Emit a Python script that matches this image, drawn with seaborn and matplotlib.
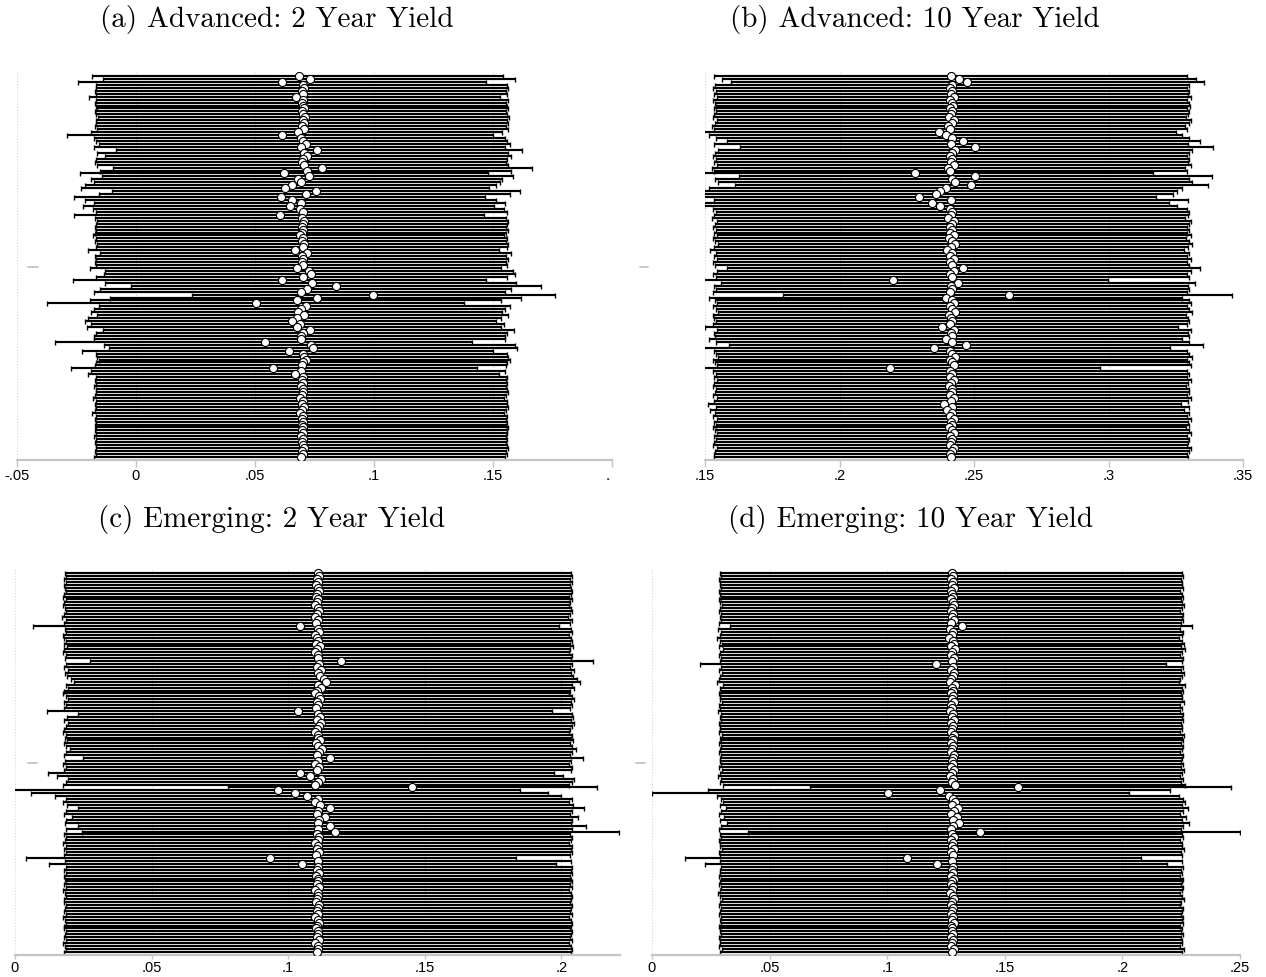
import numpy as np
import pandas as pd
import matplotlib
matplotlib.use("Agg")
import matplotlib.pyplot as plt
import seaborn as sns
from matplotlib.transforms import Bbox, TransformedBbox, blended_transform_factory

# ---------------------------------------------------------------------------
# Leave-one-out estimates: point estimate and 95% interval for every sample row
# ---------------------------------------------------------------------------

# (a) Advanced economies, 2 year yield
EST_A = [0.0685, 0.0733, 0.0613, 0.0700, 0.0704, 0.0697, 0.0702, 0.0672, 0.0703, 0.0697,
         0.0700, 0.0706, 0.0698, 0.0702, 0.0709, 0.0700, 0.0704, 0.0697, 0.0705, 0.0680,
         0.0613, 0.0693, 0.0700, 0.0713, 0.0693, 0.0760, 0.0705, 0.0718, 0.0702, 0.0698,
         0.0705, 0.0780, 0.0718, 0.0620, 0.0728, 0.0680, 0.0693, 0.0655, 0.0626, 0.0756,
         0.0714, 0.0609, 0.0655, 0.0693, 0.0647, 0.0690, 0.0700, 0.0605, 0.0698, 0.0705,
         0.0700, 0.0696, 0.0703, 0.0698, 0.0690, 0.0702, 0.0697, 0.0705, 0.0700, 0.0668,
         0.0718, 0.0698, 0.0703, 0.0696, 0.0700, 0.0676, 0.0725, 0.0735, 0.0700, 0.0613,
         0.0740, 0.0840, 0.0718, 0.0693, 0.0996, 0.0760, 0.0676, 0.0504, 0.0714, 0.0693,
         0.0680, 0.0706, 0.0676, 0.0655, 0.0690, 0.0676, 0.0730, 0.0700, 0.0693, 0.0693,
         0.0540, 0.0735, 0.0743, 0.0643, 0.0700, 0.0705, 0.0714, 0.0700, 0.0698, 0.0575,
         0.0693, 0.0668, 0.0700, 0.0697, 0.0702, 0.0695, 0.0700, 0.0703, 0.0697, 0.0688,
         0.0701, 0.0699, 0.0704, 0.0696, 0.0690, 0.0702, 0.0698, 0.0701, 0.0697, 0.0703,
         0.0699, 0.0700, 0.0695, 0.0702, 0.0698, 0.0700, 0.0704, 0.0696, 0.0701, 0.0692]
LO_A = [-0.0185, -0.0140, -0.0245, -0.0170, -0.0166, -0.0173, -0.0168, -0.0198, -0.0167, -0.0173,
        -0.0170, -0.0164, -0.0172, -0.0168, -0.0161, -0.0170, -0.0166, -0.0173, -0.0165, -0.0190,
        -0.0290, -0.0177, -0.0170, -0.0157, -0.0177, -0.0085, -0.0165, -0.0130, -0.0168, -0.0172,
        -0.0165, -0.0095, -0.0152, -0.0235, -0.0142, -0.0190, -0.0177, -0.0215, -0.0230, -0.0100,
        -0.0156, -0.0261, -0.0215, -0.0177, -0.0223, -0.0180, -0.0170, -0.0260, -0.0172, -0.0165,
        -0.0170, -0.0174, -0.0167, -0.0172, -0.0180, -0.0168, -0.0173, -0.0165, -0.0170, -0.0202,
        -0.0152, -0.0172, -0.0167, -0.0174, -0.0170, -0.0194, -0.0130, -0.0135, -0.0170, -0.0265,
        -0.0130, -0.0020, -0.0152, -0.0177, 0.0235, -0.0110, -0.0194, -0.0374, -0.0156, -0.0177,
        -0.0190, -0.0164, -0.0200, -0.0215, -0.0190, -0.0205, -0.0140, -0.0170, -0.0177, -0.0177,
        -0.0340, -0.0135, -0.0112, -0.0225, -0.0170, -0.0165, -0.0156, -0.0170, -0.0172, -0.0275,
        -0.0190, -0.0202, -0.0170, -0.0173, -0.0168, -0.0175, -0.0170, -0.0167, -0.0173, -0.0182,
        -0.0169, -0.0171, -0.0166, -0.0174, -0.0185, -0.0168, -0.0172, -0.0169, -0.0173, -0.0167,
        -0.0171, -0.0170, -0.0175, -0.0168, -0.0172, -0.0170, -0.0166, -0.0174, -0.0169, -0.0178]
HI_A = [0.1543, 0.1591, 0.1471, 0.1558, 0.1562, 0.1555, 0.1560, 0.1530, 0.1561, 0.1555,
        0.1558, 0.1564, 0.1556, 0.1560, 0.1567, 0.1558, 0.1562, 0.1555, 0.1563, 0.1538,
        0.1500, 0.1551, 0.1558, 0.1571, 0.1551, 0.1620, 0.1563, 0.1576, 0.1560, 0.1556,
        0.1563, 0.1665, 0.1576, 0.1478, 0.1586, 0.1538, 0.1530, 0.1513, 0.1484, 0.1614,
        0.1572, 0.1467, 0.1513, 0.1551, 0.1505, 0.1548, 0.1558, 0.1463, 0.1556, 0.1563,
        0.1558, 0.1554, 0.1561, 0.1556, 0.1548, 0.1560, 0.1555, 0.1563, 0.1558, 0.1526,
        0.1576, 0.1556, 0.1561, 0.1554, 0.1558, 0.1534, 0.1583, 0.1593, 0.1558, 0.1471,
        0.1598, 0.1700, 0.1576, 0.1551, 0.1760, 0.1618, 0.1534, 0.1380, 0.1572, 0.1551,
        0.1538, 0.1564, 0.1534, 0.1513, 0.1548, 0.1534, 0.1588, 0.1558, 0.1551, 0.1551,
        0.1410, 0.1593, 0.1601, 0.1501, 0.1558, 0.1563, 0.1572, 0.1558, 0.1556, 0.1433,
        0.1551, 0.1526, 0.1558, 0.1555, 0.1560, 0.1553, 0.1558, 0.1561, 0.1555, 0.1546,
        0.1559, 0.1557, 0.1562, 0.1554, 0.1548, 0.1560, 0.1556, 0.1559, 0.1555, 0.1561,
        0.1557, 0.1558, 0.1553, 0.1560, 0.1556, 0.1558, 0.1562, 0.1554, 0.1559, 0.1550]

# (b) Advanced economies, 10 year yield
EST_B = [0.2413, 0.2445, 0.2475, 0.2418, 0.2410, 0.2420, 0.2415, 0.2425, 0.2410, 0.2418,
         0.2422, 0.2412, 0.2420, 0.2415, 0.2408, 0.2425, 0.2418, 0.2405, 0.2412, 0.2370,
         0.2395, 0.2420, 0.2460, 0.2415, 0.2502, 0.2430, 0.2418, 0.2410, 0.2420, 0.2415,
         0.2425, 0.2405, 0.2412, 0.2280, 0.2505, 0.2418, 0.2430, 0.2490, 0.2395, 0.2375,
         0.2360, 0.2295, 0.2415, 0.2345, 0.2375, 0.2410, 0.2420, 0.2415, 0.2405, 0.2425,
         0.2418, 0.2410, 0.2420, 0.2412, 0.2425, 0.2408, 0.2418, 0.2430, 0.2415, 0.2400,
         0.2420, 0.2412, 0.2425, 0.2410, 0.2418, 0.2460, 0.2425, 0.2410, 0.2420, 0.2200,
         0.2440, 0.2415, 0.2420, 0.2410, 0.2630, 0.2395, 0.2418, 0.2425, 0.2410, 0.2420,
         0.2430, 0.2408, 0.2415, 0.2420, 0.2410, 0.2380, 0.2425, 0.2415, 0.2418, 0.2395,
         0.2420, 0.2470, 0.2350, 0.2412, 0.2420, 0.2430, 0.2410, 0.2418, 0.2425, 0.2187,
         0.2410, 0.2420, 0.2412, 0.2425, 0.2415, 0.2408, 0.2420, 0.2418, 0.2410, 0.2425,
         0.2415, 0.2390, 0.2420, 0.2400, 0.2418, 0.2410, 0.2425, 0.2415, 0.2420, 0.2408,
         0.2418, 0.2425, 0.2412, 0.2420, 0.2415, 0.2410, 0.2425, 0.2418, 0.2412, 0.2415]
LO_B = [0.1533, 0.1565, 0.1595, 0.1538, 0.1530, 0.1540, 0.1535, 0.1545, 0.1530, 0.1538,
        0.1542, 0.1532, 0.1540, 0.1535, 0.1528, 0.1545, 0.1538, 0.1525, 0.1532, 0.1420,
        0.1515, 0.1540, 0.1580, 0.1535, 0.1630, 0.1550, 0.1538, 0.1530, 0.1540, 0.1535,
        0.1545, 0.1525, 0.1532, 0.1400, 0.1625, 0.1538, 0.1550, 0.1610, 0.1515, 0.1495,
        0.1480, 0.1418, 0.1535, 0.1465, 0.1495, 0.1530, 0.1540, 0.1535, 0.1525, 0.1545,
        0.1538, 0.1530, 0.1540, 0.1532, 0.1545, 0.1528, 0.1538, 0.1550, 0.1535, 0.1520,
        0.1540, 0.1532, 0.1545, 0.1530, 0.1538, 0.1580, 0.1545, 0.1530, 0.1540, 0.1318,
        0.1560, 0.1535, 0.1540, 0.1530, 0.1790, 0.1515, 0.1538, 0.1545, 0.1530, 0.1540,
        0.1550, 0.1528, 0.1535, 0.1540, 0.1530, 0.1500, 0.1545, 0.1535, 0.1538, 0.1515,
        0.1540, 0.1590, 0.1470, 0.1532, 0.1540, 0.1550, 0.1530, 0.1538, 0.1545, 0.1370,
        0.1530, 0.1540, 0.1532, 0.1545, 0.1535, 0.1528, 0.1540, 0.1538, 0.1530, 0.1545,
        0.1535, 0.1510, 0.1540, 0.1520, 0.1538, 0.1530, 0.1545, 0.1535, 0.1540, 0.1528,
        0.1538, 0.1545, 0.1532, 0.1540, 0.1535, 0.1530, 0.1545, 0.1538, 0.1532, 0.1535]
HI_B = [0.3293, 0.3325, 0.3355, 0.3298, 0.3290, 0.3300, 0.3295, 0.3305, 0.3290, 0.3298,
        0.3302, 0.3292, 0.3300, 0.3295, 0.3288, 0.3305, 0.3298, 0.3285, 0.3292, 0.3250,
        0.3275, 0.3300, 0.3340, 0.3295, 0.3390, 0.3310, 0.3298, 0.3290, 0.3300, 0.3295,
        0.3305, 0.3285, 0.3292, 0.3165, 0.3385, 0.3298, 0.3310, 0.3370, 0.3275, 0.3255,
        0.3240, 0.3175, 0.3295, 0.3225, 0.3255, 0.3290, 0.3300, 0.3295, 0.3285, 0.3305,
        0.3298, 0.3290, 0.3300, 0.3292, 0.3305, 0.3288, 0.3298, 0.3310, 0.3295, 0.3280,
        0.3300, 0.3292, 0.3305, 0.3290, 0.3298, 0.3340, 0.3305, 0.3290, 0.3300, 0.2998,
        0.3320, 0.3295, 0.3300, 0.3290, 0.3460, 0.3275, 0.3298, 0.3305, 0.3290, 0.3300,
        0.3310, 0.3288, 0.3295, 0.3300, 0.3290, 0.3260, 0.3305, 0.3295, 0.3298, 0.3275,
        0.3300, 0.3350, 0.3230, 0.3292, 0.3300, 0.3310, 0.3290, 0.3298, 0.3305, 0.2968,
        0.3290, 0.3300, 0.3292, 0.3305, 0.3295, 0.3288, 0.3300, 0.3298, 0.3290, 0.3305,
        0.3295, 0.3270, 0.3300, 0.3280, 0.3298, 0.3290, 0.3305, 0.3295, 0.3300, 0.3288,
        0.3298, 0.3305, 0.3292, 0.3300, 0.3295, 0.3290, 0.3305, 0.3298, 0.3292, 0.3295]

# (c) Emerging economies, 2 year yield
EST_C = [0.1108, 0.1112, 0.1105, 0.1110, 0.1103, 0.1108, 0.1112, 0.1106, 0.1102, 0.1110,
         0.1105, 0.1100, 0.1108, 0.1112, 0.1104, 0.1098, 0.1110, 0.1103, 0.1044, 0.1108,
         0.1112, 0.1100, 0.1106, 0.1110, 0.1103, 0.1115, 0.1105, 0.1100, 0.1110, 0.1108,
         0.1194, 0.1112, 0.1105, 0.1120, 0.1108, 0.1115, 0.1130, 0.1140, 0.1110, 0.1120,
         0.1105, 0.1100, 0.1112, 0.1118, 0.1106, 0.1110, 0.1103, 0.1037, 0.1110, 0.1115,
         0.1106, 0.1120, 0.1112, 0.1105, 0.1100, 0.1110, 0.1108, 0.1115, 0.1103, 0.1110,
         0.1125, 0.1112, 0.1105, 0.1154, 0.1108, 0.1100, 0.1112, 0.1106, 0.1044, 0.1080,
         0.1120, 0.1110, 0.1100, 0.1454, 0.0963, 0.1026, 0.1070, 0.1110, 0.1100, 0.1115,
         0.1154, 0.1110, 0.1105, 0.1135, 0.1112, 0.1108, 0.1154, 0.1110, 0.1172, 0.1105,
         0.1112, 0.1108, 0.1100, 0.1110, 0.1106, 0.1112, 0.1103, 0.0934, 0.1108, 0.1051,
         0.1110, 0.1106, 0.1112, 0.1103, 0.1108, 0.1110, 0.1105, 0.1112, 0.1100, 0.1108,
         0.1110, 0.1106, 0.1103, 0.1112, 0.1108, 0.1105, 0.1110, 0.1100, 0.1108, 0.1112,
         0.1106, 0.1103, 0.1110, 0.1108, 0.1105, 0.1112, 0.1100, 0.1108, 0.1110, 0.1106]
LO_C = [0.0183, 0.0187, 0.0180, 0.0185, 0.0178, 0.0183, 0.0187, 0.0181, 0.0177, 0.0185,
        0.0180, 0.0175, 0.0183, 0.0187, 0.0179, 0.0173, 0.0185, 0.0178, 0.0066, 0.0183,
        0.0187, 0.0175, 0.0181, 0.0185, 0.0178, 0.0190, 0.0180, 0.0175, 0.0185, 0.0183,
        0.0275, 0.0187, 0.0180, 0.0195, 0.0183, 0.0190, 0.0205, 0.0215, 0.0185, 0.0195,
        0.0180, 0.0175, 0.0187, 0.0193, 0.0181, 0.0185, 0.0178, 0.0117, 0.0230, 0.0190,
        0.0181, 0.0195, 0.0187, 0.0180, 0.0175, 0.0185, 0.0183, 0.0190, 0.0178, 0.0185,
        0.0200, 0.0187, 0.0180, 0.0250, 0.0183, 0.0175, 0.0187, 0.0181, 0.0119, 0.0155,
        0.0195, 0.0185, 0.0175, 0.0780, -0.0037, 0.0060, 0.0145, 0.0185, 0.0175, 0.0190,
        0.0229, 0.0185, 0.0180, 0.0210, 0.0187, 0.0183, 0.0229, 0.0185, 0.0247, 0.0180,
        0.0187, 0.0183, 0.0175, 0.0185, 0.0181, 0.0187, 0.0178, 0.0040, 0.0183, 0.0126,
        0.0185, 0.0181, 0.0187, 0.0178, 0.0183, 0.0185, 0.0180, 0.0187, 0.0175, 0.0183,
        0.0185, 0.0181, 0.0178, 0.0187, 0.0183, 0.0180, 0.0185, 0.0175, 0.0183, 0.0187,
        0.0181, 0.0178, 0.0185, 0.0183, 0.0180, 0.0187, 0.0175, 0.0183, 0.0185, 0.0181]
HI_C = [0.2036, 0.2040, 0.2033, 0.2038, 0.2031, 0.2036, 0.2040, 0.2034, 0.2030, 0.2038,
        0.2033, 0.2028, 0.2036, 0.2040, 0.2032, 0.2026, 0.2038, 0.2031, 0.1990, 0.2036,
        0.2040, 0.2028, 0.2034, 0.2038, 0.2031, 0.2043, 0.2033, 0.2028, 0.2038, 0.2036,
        0.2115, 0.2040, 0.2033, 0.2048, 0.2036, 0.2043, 0.2058, 0.2068, 0.2038, 0.2048,
        0.2033, 0.2028, 0.2040, 0.2046, 0.2034, 0.2038, 0.2031, 0.1965, 0.2038, 0.2043,
        0.2034, 0.2048, 0.2040, 0.2033, 0.2028, 0.2038, 0.2036, 0.2043, 0.2031, 0.2038,
        0.2053, 0.2040, 0.2033, 0.2080, 0.2036, 0.2028, 0.2040, 0.2034, 0.1972, 0.2008,
        0.2048, 0.2038, 0.2028, 0.2130, 0.1850, 0.1950, 0.1998, 0.2038, 0.2028, 0.2043,
        0.2082, 0.2038, 0.2033, 0.2063, 0.2040, 0.2036, 0.2090, 0.2038, 0.2210, 0.2033,
        0.2040, 0.2036, 0.2028, 0.2038, 0.2034, 0.2040, 0.2031, 0.1835, 0.2036, 0.1979,
        0.2038, 0.2034, 0.2040, 0.2031, 0.2036, 0.2038, 0.2033, 0.2040, 0.2028, 0.2036,
        0.2038, 0.2034, 0.2031, 0.2040, 0.2036, 0.2033, 0.2038, 0.2028, 0.2036, 0.2040,
        0.2034, 0.2031, 0.2038, 0.2036, 0.2033, 0.2040, 0.2028, 0.2036, 0.2038, 0.2034]

# (d) Emerging economies, 10 year yield
EST_D = [0.1276, 0.1280, 0.1272, 0.1278, 0.1275, 0.1282, 0.1270, 0.1277, 0.1280, 0.1273,
         0.1278, 0.1284, 0.1275, 0.1270, 0.1279, 0.1276, 0.1282, 0.1272, 0.1318, 0.1268,
         0.1280, 0.1275, 0.1262, 0.1278, 0.1285, 0.1272, 0.1290, 0.1276, 0.1270, 0.1282,
         0.1275, 0.1207, 0.1280, 0.1272, 0.1285, 0.1278, 0.1270, 0.1265, 0.1288, 0.1276,
         0.1280, 0.1272, 0.1278, 0.1275, 0.1283, 0.1270, 0.1277, 0.1268, 0.1280, 0.1275,
         0.1282, 0.1272, 0.1278, 0.1276, 0.1270, 0.1284, 0.1275, 0.1279, 0.1272, 0.1280,
         0.1276, 0.1270, 0.1282, 0.1278, 0.1274, 0.1280, 0.1272, 0.1286, 0.1276, 0.1268,
         0.1280, 0.1274, 0.1290, 0.1556, 0.1224, 0.1003, 0.1262, 0.1280, 0.1290, 0.1275,
         0.1300, 0.1282, 0.1270, 0.1295, 0.1278, 0.1305, 0.1280, 0.1272, 0.1395, 0.1276,
         0.1282, 0.1270, 0.1278, 0.1275, 0.1283, 0.1272, 0.1278, 0.1084, 0.1276, 0.1211,
         0.1280, 0.1274, 0.1278, 0.1270, 0.1282, 0.1276, 0.1272, 0.1280, 0.1275, 0.1268,
         0.1278, 0.1283, 0.1274, 0.1270, 0.1280, 0.1276, 0.1272, 0.1279, 0.1275, 0.1282,
         0.1270, 0.1277, 0.1274, 0.1280, 0.1272, 0.1278, 0.1275, 0.1270, 0.1284, 0.1276]
LO_D = [0.0289, 0.0293, 0.0285, 0.0291, 0.0288, 0.0295, 0.0283, 0.0290, 0.0293, 0.0286,
        0.0291, 0.0297, 0.0288, 0.0283, 0.0292, 0.0289, 0.0295, 0.0285, 0.0331, 0.0281,
        0.0293, 0.0288, 0.0275, 0.0291, 0.0298, 0.0285, 0.0303, 0.0289, 0.0283, 0.0295,
        0.0288, 0.0204, 0.0293, 0.0285, 0.0298, 0.0291, 0.0283, 0.0278, 0.0301, 0.0289,
        0.0293, 0.0285, 0.0291, 0.0288, 0.0296, 0.0283, 0.0290, 0.0281, 0.0293, 0.0288,
        0.0295, 0.0285, 0.0291, 0.0289, 0.0283, 0.0297, 0.0288, 0.0292, 0.0285, 0.0293,
        0.0289, 0.0283, 0.0295, 0.0291, 0.0287, 0.0293, 0.0285, 0.0299, 0.0289, 0.0281,
        0.0293, 0.0287, 0.0303, 0.0672, 0.0237, 0.0000, 0.0275, 0.0293, 0.0303, 0.0288,
        0.0313, 0.0295, 0.0283, 0.0308, 0.0291, 0.0318, 0.0293, 0.0285, 0.0408, 0.0289,
        0.0295, 0.0283, 0.0291, 0.0288, 0.0296, 0.0285, 0.0291, 0.0140, 0.0289, 0.0224,
        0.0293, 0.0287, 0.0291, 0.0283, 0.0295, 0.0289, 0.0285, 0.0293, 0.0288, 0.0281,
        0.0291, 0.0296, 0.0287, 0.0283, 0.0293, 0.0289, 0.0285, 0.0292, 0.0288, 0.0295,
        0.0283, 0.0290, 0.0287, 0.0293, 0.0285, 0.0291, 0.0288, 0.0283, 0.0297, 0.0289]
HI_D = [0.2253, 0.2257, 0.2249, 0.2255, 0.2252, 0.2259, 0.2247, 0.2254, 0.2257, 0.2250,
        0.2255, 0.2261, 0.2252, 0.2247, 0.2256, 0.2253, 0.2259, 0.2249, 0.2295, 0.2245,
        0.2257, 0.2252, 0.2239, 0.2255, 0.2262, 0.2249, 0.2267, 0.2253, 0.2247, 0.2259,
        0.2252, 0.2184, 0.2257, 0.2249, 0.2262, 0.2255, 0.2247, 0.2242, 0.2265, 0.2253,
        0.2257, 0.2249, 0.2255, 0.2252, 0.2260, 0.2247, 0.2254, 0.2245, 0.2257, 0.2252,
        0.2259, 0.2249, 0.2255, 0.2253, 0.2247, 0.2261, 0.2252, 0.2256, 0.2249, 0.2257,
        0.2253, 0.2247, 0.2259, 0.2255, 0.2251, 0.2257, 0.2249, 0.2263, 0.2253, 0.2245,
        0.2257, 0.2251, 0.2267, 0.2460, 0.2201, 0.2030, 0.2239, 0.2257, 0.2267, 0.2252,
        0.2277, 0.2259, 0.2247, 0.2272, 0.2255, 0.2282, 0.2257, 0.2249, 0.2500, 0.2253,
        0.2259, 0.2247, 0.2255, 0.2252, 0.2260, 0.2249, 0.2255, 0.2080, 0.2253, 0.2188,
        0.2257, 0.2251, 0.2255, 0.2247, 0.2259, 0.2253, 0.2249, 0.2257, 0.2252, 0.2245,
        0.2255, 0.2260, 0.2251, 0.2247, 0.2257, 0.2253, 0.2249, 0.2256, 0.2252, 0.2259,
        0.2247, 0.2254, 0.2251, 0.2257, 0.2249, 0.2255, 0.2252, 0.2247, 0.2261, 0.2253]

TITLES = ["(a) Advanced: 2 Year Yield", "(b) Advanced: 10 Year Yield",
          "(c) Emerging: 2 Year Yield", "(d) Emerging: 10 Year Yield"]
TICKS_A = [-0.05, 0.0, 0.05, 0.10, 0.15, 0.20]
TICKS_B = [0.15, 0.20, 0.25, 0.30, 0.35]
TICKS_C = [0.0, 0.05, 0.10, 0.15, 0.20]
TICKS_D = [0.0, 0.05, 0.10, 0.15, 0.20, 0.25]
LABELS_A = ["-.05", "0", ".05", ".1", ".15", ".2"]
LABELS_B = [".15", ".2", ".25", ".3", ".35"]
LABELS_C = ["0", ".05", ".1", ".15", ".2"]
LABELS_D = ["0", ".05", ".1", ".15", ".2", ".25"]

# ---------------------------------------------------------------------------
W, H = 1266, 977
sns.set_theme(style="white")
plt.rcParams["font.family"] = ["Liberation Sans", "DejaVu Sans"]

fig = plt.figure(figsize=(W / 100, H / 100), dpi=100)

AXIS_GREY = "#c4c4c4"

# pixel layout: left, right, top, bottom of each plot region, first/last row centre
panels = [
    dict(est=EST_A, lo=LO_A, hi=HI_A, xlim=(-0.05, 0.20), ticks=TICKS_A, labels=LABELS_A,
         box=(17, 612, 72, 460), rows=(76, 457), title_xy=(277, 20), dash=(28, 38),
         clip_right=610, ticklen=5),
    dict(est=EST_B, lo=LO_B, hi=HI_B, xlim=(0.15, 0.35), ticks=TICKS_B, labels=LABELS_B,
         box=(705, 1243, 72, 460), rows=(76, 457), title_xy=(915, 20), dash=(640, 648),
         clip_right=None, ticklen=5),
    dict(est=EST_C, lo=LO_C, hi=HI_C, xlim=(0.0, 0.2215), ticks=TICKS_C, labels=LABELS_C,
         box=(15, 620, 568, 955), rows=(573, 952), title_xy=(272, 519), dash=(28, 37),
         clip_right=None, ticklen=3),
    dict(est=EST_D, lo=LO_D, hi=HI_D, xlim=(0.0, 0.25), ticks=TICKS_D, labels=LABELS_D,
         box=(652, 1240, 568, 955), rows=(573, 952), title_xy=(911, 519), dash=(636, 645),
         clip_right=None, ticklen=3),
]

for title, p in zip(TITLES, panels):
    left, right, top, bottom = p["box"]
    ax = fig.add_axes([left / W, 1 - bottom / H, (right - left) / W, (bottom - top) / H])

    df = pd.DataFrame({"est": p["est"], "lo": p["lo"], "hi": p["hi"]})
    df["row"] = np.arange(len(df))
    n = len(df)

    # vertical mapping so that first and last rows sit at the requested pixels
    r0, r1 = p["rows"]
    pitch = (r1 - r0) / (n - 1)
    ax.set_ylim((n - 1) + (bottom - r1) / pitch, -(r0 - top) / pitch)
    ax.set_xlim(*p["xlim"])

    ax.grid(axis="x", color="#d6d6d6", linestyle=(0, (1, 1.6)), linewidth=0.8)
    ax.set_axisbelow(True)

    ax.errorbar(df["est"], df["row"],
                xerr=[df["est"] - df["lo"], df["hi"] - df["est"]],
                fmt="none", ecolor="black", elinewidth=1.55,
                capsize=1.8, capthick=1.0, zorder=2)
    sns.scatterplot(data=df, x="est", y="row", ax=ax, s=34, color="white",
                    edgecolor="black", linewidth=0.8, zorder=3, legend=False)

    for side in ("left", "right", "top"):
        ax.spines[side].set_visible(False)
    ax.spines["bottom"].set_color(AXIS_GREY)
    ax.spines["bottom"].set_linewidth(1.6)

    ax.set_xticks(p["ticks"])
    ax.set_xticklabels(p["labels"])
    ax.tick_params(axis="x", bottom=True, length=p["ticklen"], width=1.0, color=AXIS_GREY,
                   labelsize=10.5, labelcolor="black", pad=1.5)
    ax.set_yticks([])
    ax.set_xlabel("")
    ax.set_ylabel("")
    ax.patch.set_alpha(0)

    # small tick marking the centre of the vertical axis
    mid = (n - 1) / 2
    tr = blended_transform_factory(fig.transFigure, ax.transData)
    d0, d1 = p["dash"]
    ax.plot([d0 / W, d1 / W], [mid, mid], transform=tr, color="#bdbdbd", lw=1.2,
            clip_on=False, zorder=1)

    if p["clip_right"] is not None:
        clip = TransformedBbox(Bbox([[0, 0], [p["clip_right"] / W, 1]]), fig.transFigure)
        for lab in ax.get_xticklabels():
            lab.set_clip_box(clip)
            lab.set_clip_on(True)

    tx, ty = p["title_xy"]
    fig.text(tx / W, 1 - ty / H, title, family="cmr10", fontsize=21,
             ha="center", va="center", color="black")

fig.savefig("out.png", dpi=100)
